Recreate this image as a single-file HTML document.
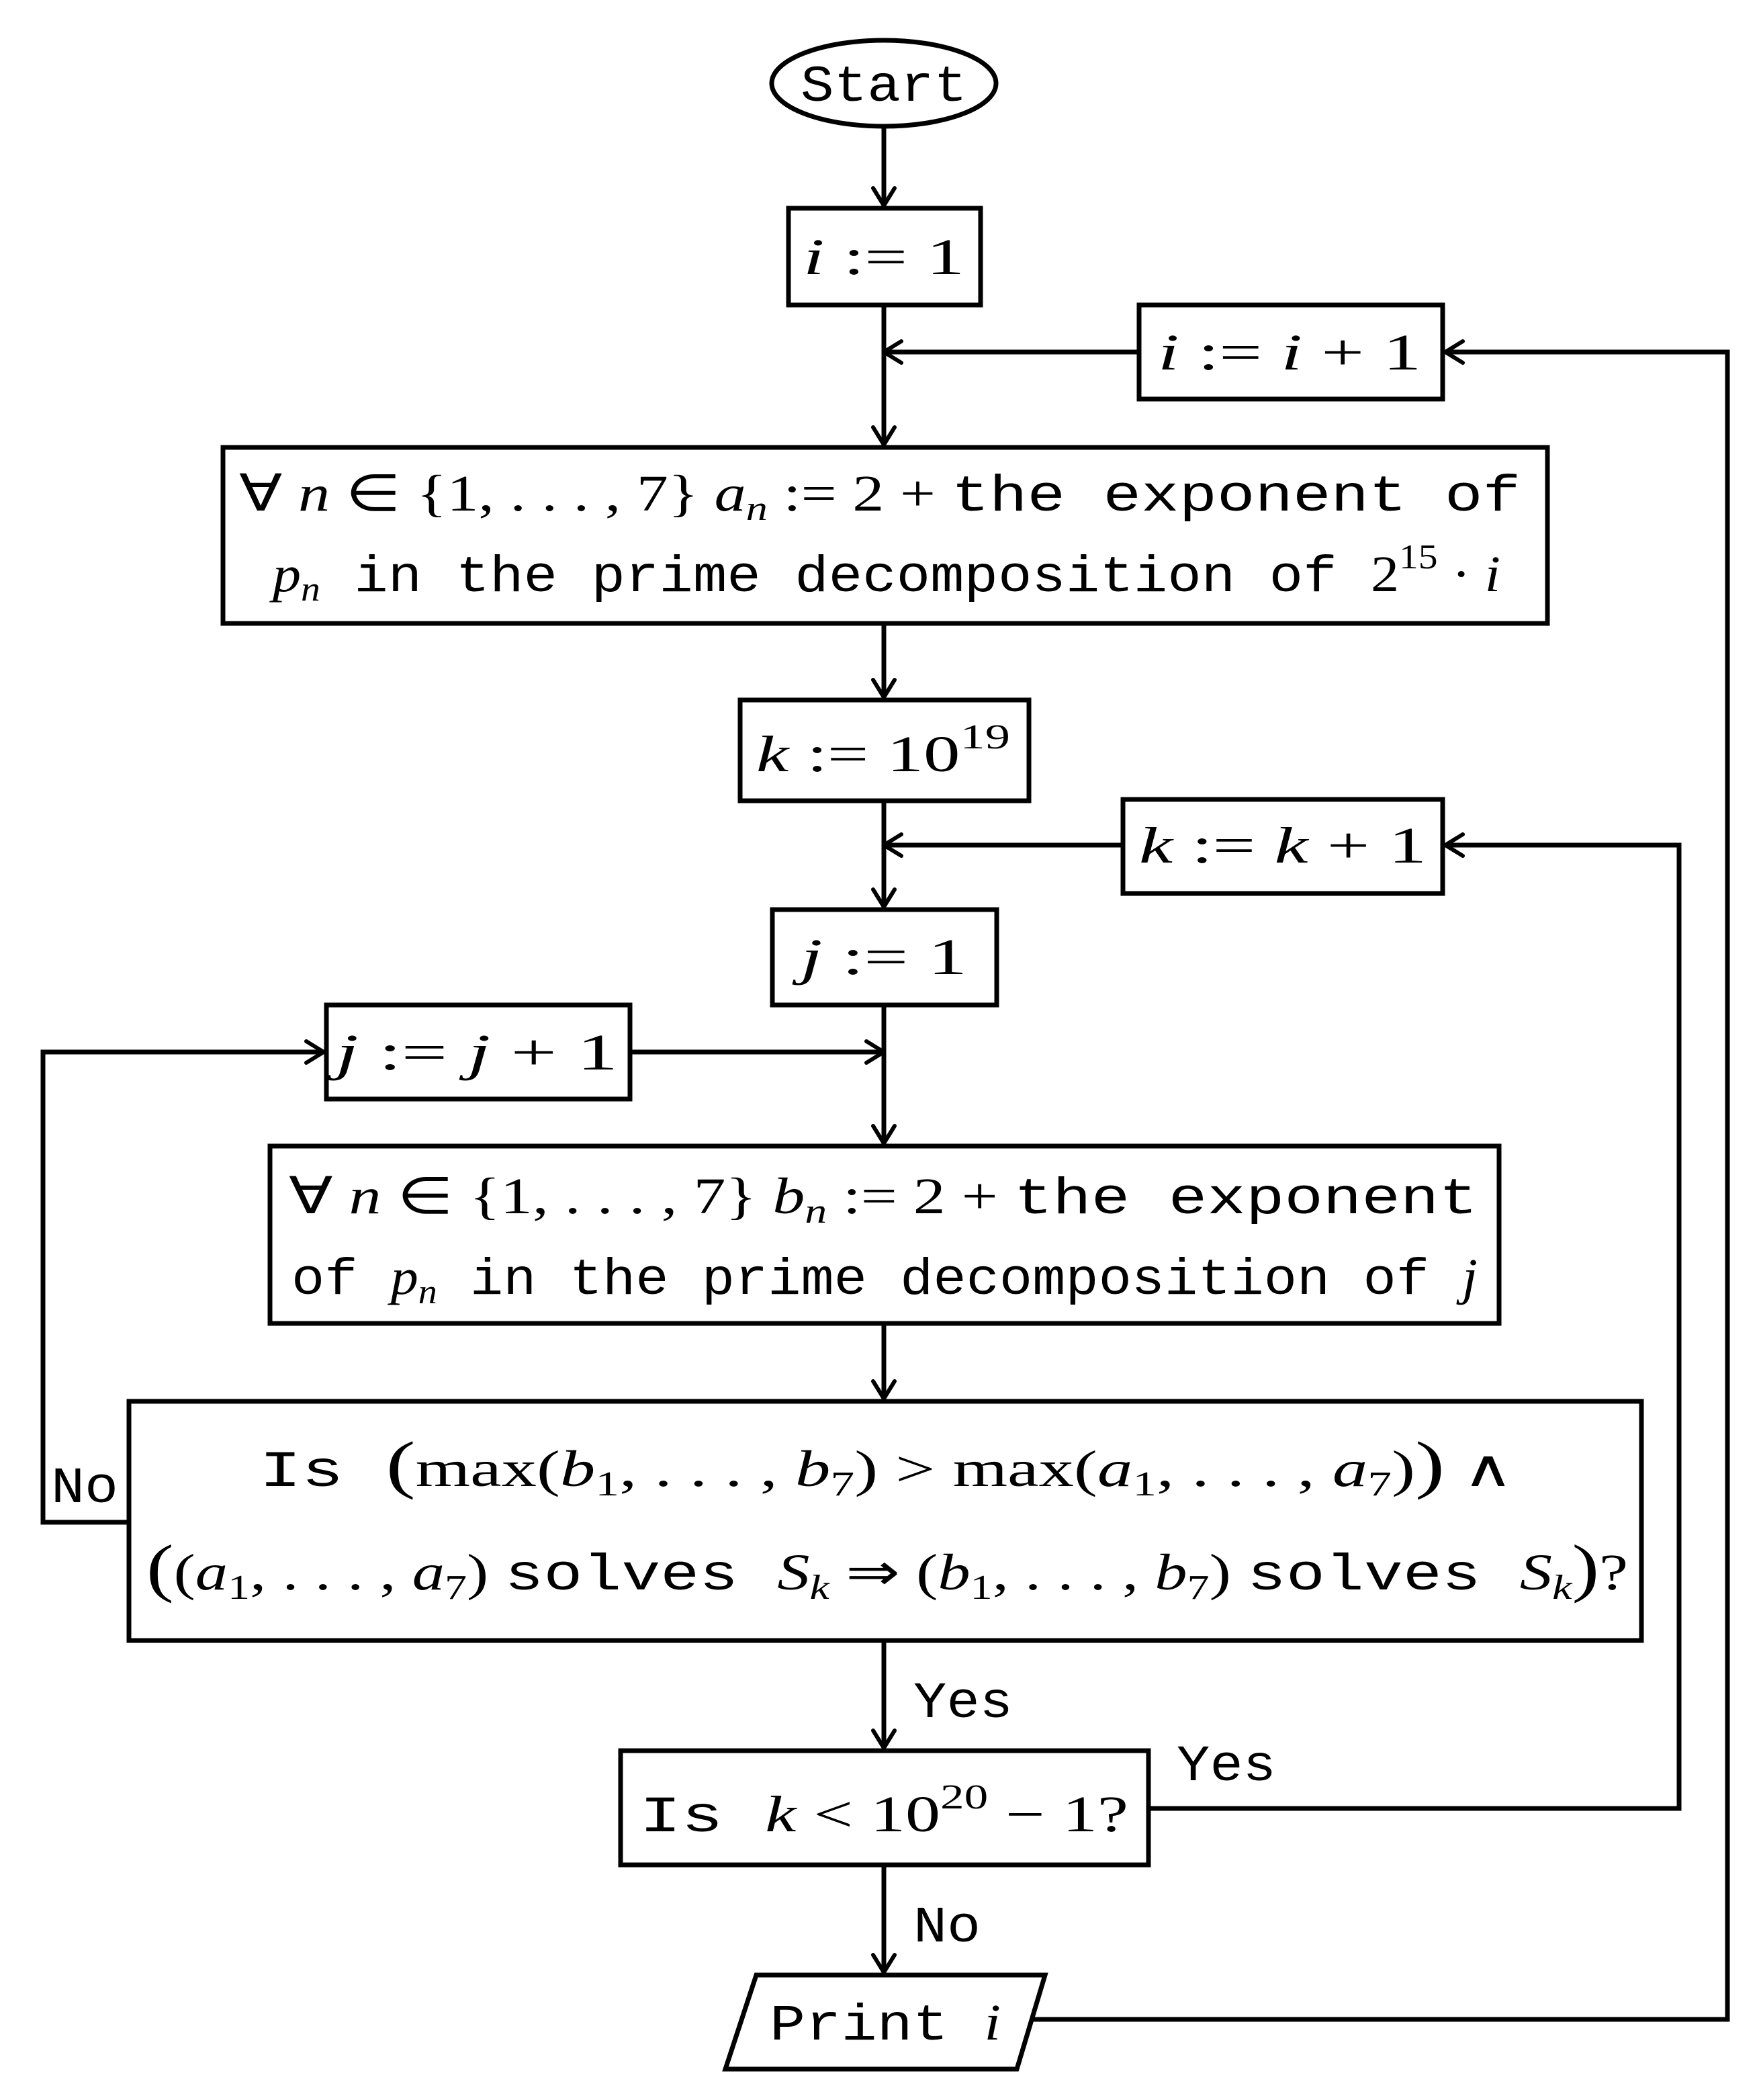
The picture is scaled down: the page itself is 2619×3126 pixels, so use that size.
<!DOCTYPE html>
<html><head><meta charset="utf-8"><style>
html,body{margin:0;padding:0;background:#fff}
svg{display:block}
.m{font-family:"Liberation Serif",serif;font-style:italic}
.r{font-family:"Liberation Serif",serif;font-style:normal}
.t{font-family:"Liberation Mono",monospace;font-style:normal}
text{font-size:76px;fill:#000}
</style></head><body>
<svg width="2619" height="3126" viewBox="0 0 2619 3126" xmlns="http://www.w3.org/2000/svg">
<g fill="none" stroke="#000" stroke-width="7">
<ellipse cx="1316" cy="124" rx="167" ry="64"/>
<rect x="1174" y="310" width="286" height="144"/>
<rect x="1696" y="454" width="452" height="140"/>
<rect x="332" y="666" width="1972" height="262"/>
<rect x="1102" y="1042" width="430" height="150"/>
<rect x="1672" y="1190" width="476" height="140"/>
<rect x="1150" y="1354" width="334" height="142"/>
<rect x="486" y="1496" width="452" height="140"/>
<rect x="402" y="1706" width="1830" height="264"/>
<rect x="192" y="2086" width="2252" height="356"/>
<rect x="924" y="2606" width="786" height="170"/>
<polygon points="1126,2940 1556,2940 1514,3080 1080,3080"/>
<!-- connectors -->
<polyline points="1316,188 1316,306"/>
<polyline points="1316,454 1316,662"/>
<polyline points="1696,524 1316,524"/>
<polyline points="1534,3006 2572,3006 2572,524 2152,524"/>
<polyline points="1316,928 1316,1038"/>
<polyline points="1316,1192 1316,1350"/>
<polyline points="1672,1258 1316,1258"/>
<polyline points="1710,2692 2500,2692 2500,1258 2152,1258"/>
<polyline points="1316,1496 1316,1702"/>
<polyline points="938,1566 1316,1566"/>
<polyline points="192,2266 64,2266 64,1566 482,1566"/>
<polyline points="1316,1970 1316,2082"/>
<polyline points="1316,2442 1316,2602"/>
<polyline points="1316,2776 1316,2936"/>
<!-- arrowheads -->
<g stroke-width="6" stroke-linecap="round" stroke-linejoin="round">
<polyline points="1300,280 1316,306 1332,280"/>
<polyline points="1300,636 1316,662 1332,636"/>
<polyline points="1300,1012 1316,1038 1332,1012"/>
<polyline points="1300,1324 1316,1350 1332,1324"/>
<polyline points="1300,1676 1316,1702 1332,1676"/>
<polyline points="1300,2056 1316,2082 1332,2056"/>
<polyline points="1300,2576 1316,2602 1332,2576"/>
<polyline points="1300,2910 1316,2936 1332,2910"/>
<polyline points="1342,508 1316,524 1342,540"/>
<polyline points="1342,1242 1316,1258 1342,1274"/>
<polyline points="2178,508 2152,524 2178,540"/>
<polyline points="2178,1242 2152,1258 2178,1274"/>
<polyline points="456,1550 482,1566 456,1582"/>
<polyline points="1290,1550 1316,1566 1290,1582"/>
</g>
</g>
<text x="1192" y="150" class="t" textLength="248" lengthAdjust="spacingAndGlyphs">Start</text>
<text x="1196" y="408" textLength="240" lengthAdjust="spacingAndGlyphs"><tspan class="m">i</tspan><tspan class="r"> := 1</tspan></text>
<text x="1724" y="550" textLength="392" lengthAdjust="spacingAndGlyphs"><tspan class="m">i</tspan><tspan class="r"> := </tspan><tspan class="m">i</tspan><tspan class="r"> + 1</tspan></text>
<text x="356" y="760" textLength="1908" lengthAdjust="spacingAndGlyphs"><tspan class="r">∀ </tspan><tspan class="m">n</tspan><tspan class="r"> ∈ {1, . . . , 7} </tspan><tspan class="m">a</tspan><tspan class="m" font-size="52" dy="14">n</tspan><tspan class="r" dy="-14"> := 2 + </tspan><tspan class="t">the exponent of</tspan></text>
<text x="406" y="880" textLength="1828" lengthAdjust="spacingAndGlyphs"><tspan class="m">p</tspan><tspan class="m" font-size="52" dy="14">n</tspan><tspan class="t" dy="-14"> in the prime decomposition of </tspan><tspan class="r">2</tspan><tspan class="r" font-size="52" dy="-34">15</tspan><tspan class="r" dy="34"> · </tspan><tspan class="m">i</tspan></text>
<text x="1126" y="1148" textLength="378" lengthAdjust="spacingAndGlyphs"><tspan class="m">k</tspan><tspan class="r"> := 10</tspan><tspan class="r" font-size="52" dy="-34">19</tspan></text>
<text x="1696" y="1284" textLength="428" lengthAdjust="spacingAndGlyphs"><tspan class="m">k</tspan><tspan class="r"> := </tspan><tspan class="m">k</tspan><tspan class="r"> + 1</tspan></text>
<text x="1192" y="1450" textLength="248" lengthAdjust="spacingAndGlyphs"><tspan class="m">j</tspan><tspan class="r"> := 1</tspan></text>
<text x="500" y="1592" textLength="420" lengthAdjust="spacingAndGlyphs"><tspan class="m">j</tspan><tspan class="r"> := </tspan><tspan class="m">j</tspan><tspan class="r"> + 1</tspan></text>
<text x="430" y="1806" textLength="1770" lengthAdjust="spacingAndGlyphs"><tspan class="r">∀ </tspan><tspan class="m">n</tspan><tspan class="r"> ∈ {1, . . . , 7} </tspan><tspan class="m">b</tspan><tspan class="m" font-size="52" dy="14">n</tspan><tspan class="r" dy="-14"> := 2 + </tspan><tspan class="t">the exponent</tspan></text>
<text x="434" y="1926" textLength="1766" lengthAdjust="spacingAndGlyphs"><tspan class="t">of </tspan><tspan class="m">p</tspan><tspan class="m" font-size="52" dy="14">n</tspan><tspan class="t" dy="-14"> in the prime decomposition of </tspan><tspan class="m">j</tspan></text>
<text x="386" y="2212" textLength="1868" lengthAdjust="spacingAndGlyphs"><tspan class="t">Is </tspan><tspan class="r" font-size="96">(</tspan><tspan class="r">max(</tspan><tspan class="m">b</tspan><tspan class="r" font-size="52" dy="14">1</tspan><tspan class="r" dy="-14">, . . . , </tspan><tspan class="m">b</tspan><tspan class="r" font-size="52" dy="14">7</tspan><tspan class="r" dy="-14">)  &gt;  max(</tspan><tspan class="m">a</tspan><tspan class="r" font-size="52" dy="14">1</tspan><tspan class="r" dy="-14">, . . . , </tspan><tspan class="m">a</tspan><tspan class="r" font-size="52" dy="14">7</tspan><tspan class="r" dy="-14">)</tspan><tspan class="r" font-size="96">)</tspan><tspan class="r"> ∧</tspan></text>
<text x="218" y="2366" textLength="2206" lengthAdjust="spacingAndGlyphs"><tspan class="r" font-size="96">(</tspan><tspan class="r">(</tspan><tspan class="m">a</tspan><tspan class="r" font-size="52" dy="14">1</tspan><tspan class="r" dy="-14">, . . . , </tspan><tspan class="m">a</tspan><tspan class="r" font-size="52" dy="14">7</tspan><tspan class="r" dy="-14">) </tspan><tspan class="t">solves </tspan><tspan class="m">S</tspan><tspan class="m" font-size="52" dy="14">k</tspan><tspan class="r" dy="-14"> ⇒ (</tspan><tspan class="m">b</tspan><tspan class="r" font-size="52" dy="14">1</tspan><tspan class="r" dy="-14">, . . . , </tspan><tspan class="m">b</tspan><tspan class="r" font-size="52" dy="14">7</tspan><tspan class="r" dy="-14">) </tspan><tspan class="t">solves </tspan><tspan class="m">S</tspan><tspan class="m" font-size="52" dy="14">k</tspan><tspan class="r" font-size="96" dy="-14">)</tspan><tspan class="r">?</tspan></text>
<text x="76" y="2236" class="t" textLength="100" lengthAdjust="spacingAndGlyphs">No</text>
<text x="1360" y="2556" class="t" textLength="148" lengthAdjust="spacingAndGlyphs">Yes</text>
<text x="1752" y="2650" class="t" textLength="148" lengthAdjust="spacingAndGlyphs">Yes</text>
<text x="952" y="2726" textLength="728" lengthAdjust="spacingAndGlyphs"><tspan class="t">Is  </tspan><tspan class="m">k</tspan><tspan class="r"> &lt; 10</tspan><tspan class="r" font-size="52" dy="-34">20</tspan><tspan class="r" dy="34"> − 1?</tspan></text>
<text x="1360" y="2890" class="t" textLength="100" lengthAdjust="spacingAndGlyphs">No</text>
<text x="1146" y="3036" textLength="344" lengthAdjust="spacingAndGlyphs"><tspan class="t">Print </tspan><tspan class="m">i</tspan></text>
</svg>
</body></html>
